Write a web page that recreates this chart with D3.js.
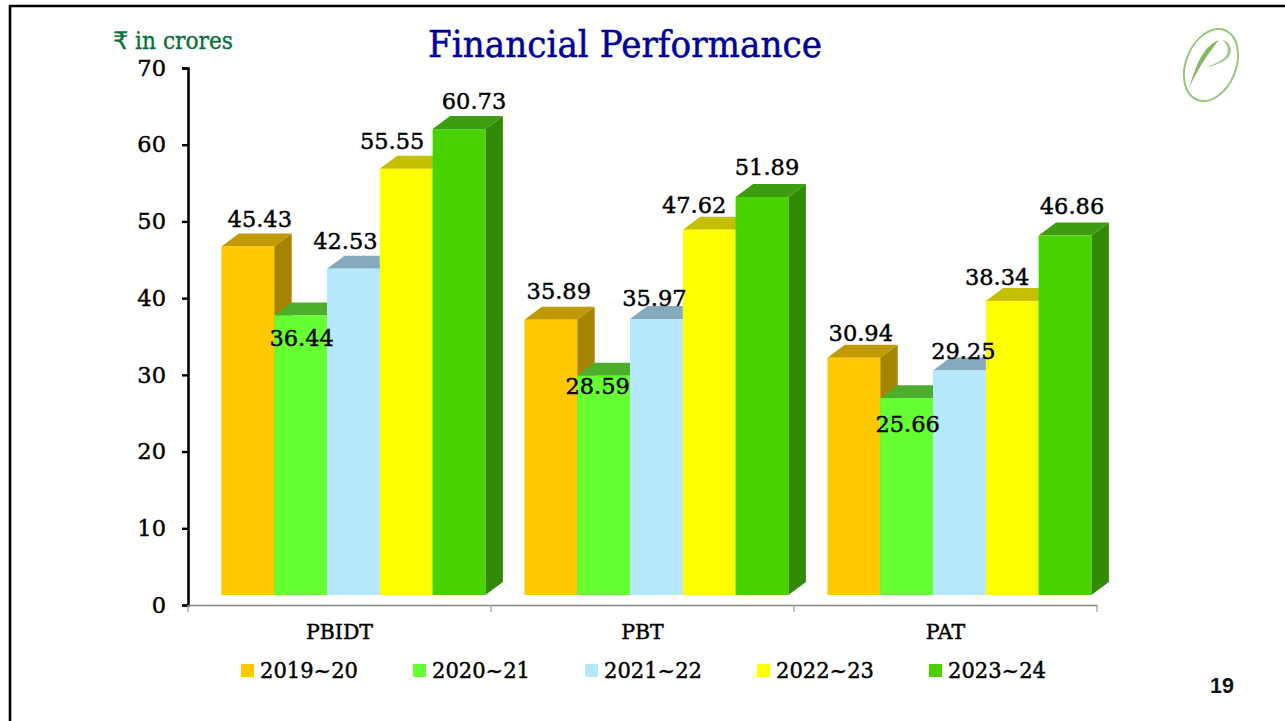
<!DOCTYPE html>
<html><head><meta charset="utf-8">
<script src="https://cdn.jsdelivr.net/npm/d3@7"></script>
<style>html,body{margin:0;padding:0;background:#fff;overflow:hidden}svg{display:block}text{font-family:"DejaVu Serif",serif}</style>
</head><body><svg id="c" width="1285" height="721"></svg>
<script>
const categories = ["PBIDT","PBT","PAT"];
const seriesNames = ["2019~20","2020~21","2021~22","2022~23","2023~24"];
const v2019 = [45.43,35.89,30.94];
const v2020 = [36.44,28.59,25.66];
const v2021 = [42.53,35.97,29.25];
const v2022 = [55.55,47.62,38.34];
const v2023 = [60.73,51.89,46.86];
const yTicks = [0,10,20,30,40,50,60,70];

const allSeries = [v2019,v2020,v2021,v2022,v2023];
const frontColors = ["#FFC800","#66FF33","#B5E8FC","#FFFF00","#49D100"];
const topColors   = ["#C09A00","#4CAE2A","#86AABD","#C4BF00","#3D9C10"];
const sideColors  = ["#A58400","#3F9A20","#7A9CAE","#B0AC00","#318A08"];
// hand-placed label nudges from the original slide, by series then category
const labelDx = [[12,8,7],[1,-6,1],[-8,-2,4],[-14,-15,-15],[15,5,7]];
const labelDy = [[-28,-29,-25],[22,10,26],[-28,-21,-20],[-28,-25,-24],[-28,-30,-30]];

const svg = d3.select("#c");
svg.append("path").attr("d","M10,721V6H1285").attr("fill","none").attr("stroke","#000").attr("stroke-width",2.6);

const depthX = 17.5, depthY = 13, floorLift = 10;
const x0 = d3.scaleBand().domain(categories).range([188,1097]);
const x1 = d3.scaleBand().domain(d3.range(5)).range([33.4,297.4]);
const y = d3.scaleLinear().domain([0,70]).range([605,68]);
const yFront = v => y(v) - floorLift;
const heavy = sel => sel.attr("stroke","#000").attr("stroke-width",0.45);

const gy = svg.append("g").attr("transform","translate(188,0)")
  .call(d3.axisLeft(y).tickValues(yTicks).tickSize(6).tickPadding(16));
gy.selectAll("path").attr("stroke","#000").attr("stroke-width",2.6);
gy.selectAll("line").attr("stroke","#000").attr("stroke-width",2.4);
gy.selectAll("text").attr("font-size",22.5).attr("fill","#000").style("font-family",'"DejaVu Serif",serif').call(heavy);

const gx = svg.append("g").attr("transform","translate(0,605)")
  .call(d3.axisBottom(x0).tickSize(0).tickPadding(19));
gx.selectAll("path").attr("stroke","#8a8a8a").attr("stroke-width",1.6);
gx.selectAll("text").attr("font-size",20.5).attr("fill","#000").attr("text-anchor","middle").style("font-family",'"DejaVu Serif",serif').call(heavy);
gx.selectAll(".sep").data(x0.domain().map(d=>x0(d)).concat([1097])).enter().append("line").attr("class","sep")
  .attr("x1",d=>d).attr("x2",d=>d).attr("y1",0).attr("y2",7).attr("stroke","#9a9a9a").attr("stroke-width",1.2);

const bars = [];
categories.forEach((c,ci)=>allSeries.forEach((s,si)=>bars.push({c,ci,si,v:s[ci]})));
const g = svg.selectAll("g.bar").data(bars).enter().append("g").attr("class","bar");
const X = d => x0(d.c)+x1(d.si), W = x1.bandwidth();
g.append("path").attr("fill",d=>sideColors[d.si]).attr("d",d=>{
  const p=d3.path(),a=X(d)+W,t=yFront(d.v),b=yFront(0);
  p.moveTo(a,t);p.lineTo(a+depthX,t-depthY);p.lineTo(a+depthX,b-depthY);p.lineTo(a,b);p.closePath();return p.toString();});
g.append("path").attr("fill",d=>topColors[d.si]).attr("d",d=>{
  const p=d3.path(),a=X(d),t=yFront(d.v);
  p.moveTo(a,t);p.lineTo(a+depthX,t-depthY);p.lineTo(a+W+depthX,t-depthY);p.lineTo(a+W,t);p.closePath();return p.toString();});
g.append("rect").attr("x",X).attr("width",W).attr("y",d=>yFront(d.v)).attr("height",d=>yFront(0)-yFront(d.v)).attr("fill",d=>frontColors[d.si]);

svg.selectAll("text.val").data(bars).enter().append("text").attr("class","val")
  .attr("x",d=>X(d)+W/2+labelDx[d.si][d.ci])
  .attr("y",d=>yFront(d.v)+labelDy[d.si][d.ci])
  .attr("dy","0.36em").attr("text-anchor","middle").attr("font-size",22.5).attr("fill","#000")
  .call(heavy).text(d=>d.v.toFixed(2));

const lx = d3.scalePoint().domain(seriesNames).range([241,929]);
const lg = svg.selectAll("g.leg").data(seriesNames).enter().append("g").attr("class","leg")
  .attr("transform",d=>`translate(${lx(d)},664)`);
lg.append("rect").attr("width",13).attr("height",13).attr("fill",(d,i)=>frontColors[i]);
lg.append("text").attr("x",19).attr("y",6.5).attr("dy","0.36em").attr("font-size",22).attr("fill","#000")
  .attr("textLength",98).attr("lengthAdjust","spacingAndGlyphs").call(heavy).text(d=>d);

svg.append("text").attr("x",428).attr("y",57).attr("font-size",38).attr("fill","#00009C").attr("stroke","#00009C").attr("stroke-width",0.5)
  .attr("textLength",394).attr("lengthAdjust","spacingAndGlyphs").text("Financial Performance");
svg.append("text").attr("x",113).attr("y",49).attr("font-size",24).attr("fill","#0B6E3D").attr("stroke","#0B6E3D").attr("stroke-width",0.4).style("font-family",'"DejaVu Sans"').text("₹");
svg.append("text").attr("x",135).attr("y",49).attr("font-size",25).attr("fill","#0B6E3D").attr("stroke","#0B6E3D").attr("stroke-width",0.4)
  .attr("textLength",98).attr("lengthAdjust","spacingAndGlyphs").text("in crores");
svg.append("text").attr("x",1222).attr("y",693).attr("text-anchor","middle").attr("font-size",21.5).attr("font-weight","bold").attr("fill","#111")
  .style("font-family",'"Liberation Sans"').text("19");

const logo = svg.append("g").attr("fill","none").attr("stroke","#9CC47E");
logo.append("ellipse").attr("cx",1211).attr("cy",65).attr("rx",25).attr("ry",37.5)
  .attr("transform","rotate(22 1211 65)").attr("stroke-width",2);
logo.append("path").attr("d","M1189,88C1197,62 1204,46 1219,40C1211,50 1199,66 1189,88Z").attr("fill","#86B860").attr("stroke","none");
logo.append("path").attr("d","M1222,40C1232,42 1233,52 1228,58C1222,63 1214,66 1206,67C1215,64 1224,60 1227,54C1229,48 1226,43 1222,40Z").attr("fill","#A8CC90").attr("stroke","none");
</script></body></html>
